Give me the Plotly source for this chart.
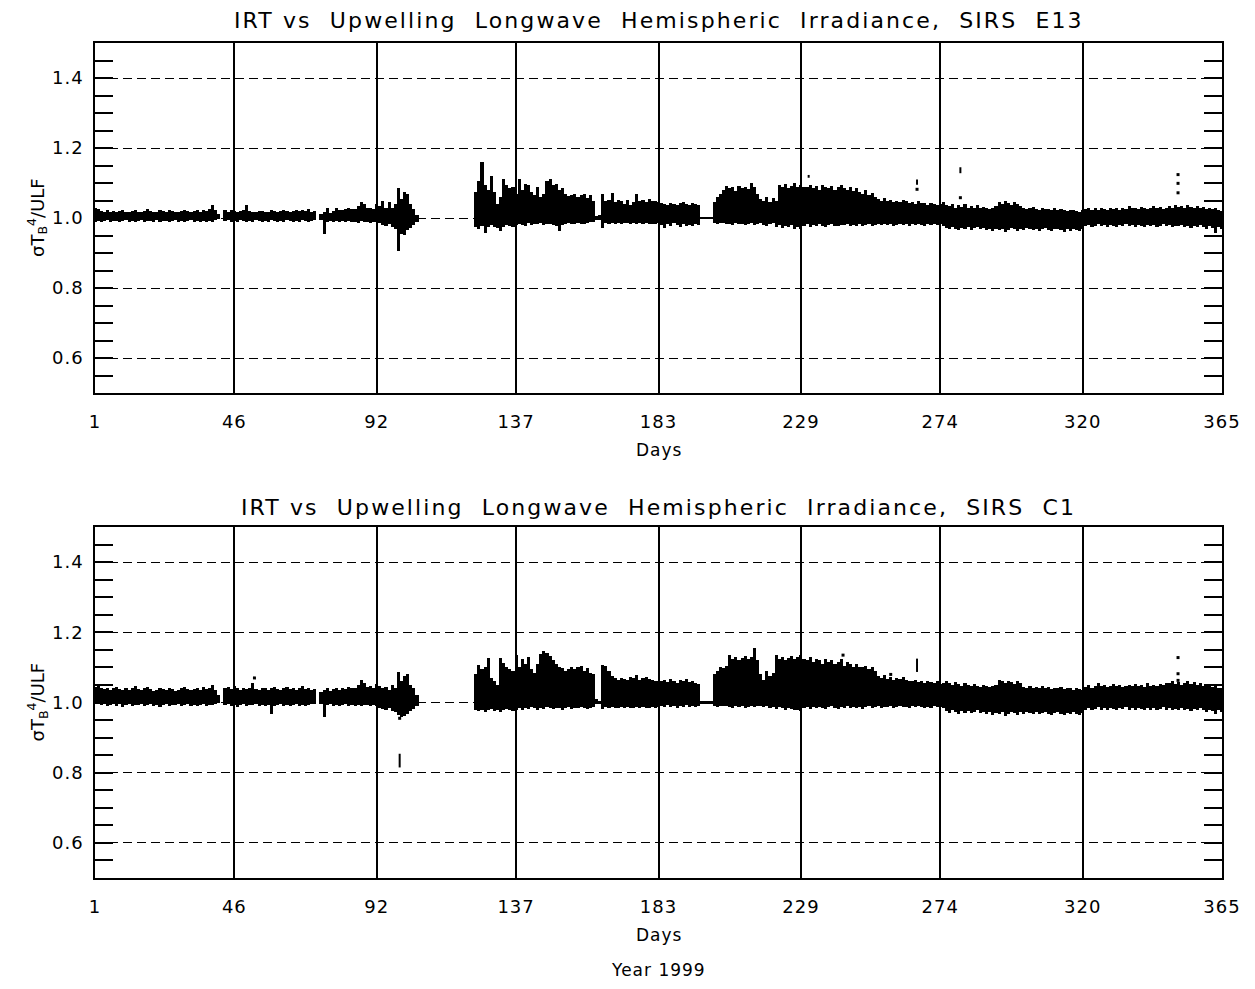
import plotly.graph_objects as go

# ---------------- data ----------------
x_tick_days = [1, 46, 92, 137, 183, 229, 274, 320, 365]
y_tick_vals = [0.6, 0.8, 1.0, 1.2, 1.4]
y_tick_text = ["0.6", "0.8", "1.0", "1.2", "1.4"]

titles = ["IRT vs  Upwelling  Longwave  Hemispheric  Irradiance,  SIRS  E13",
          "IRT vs  Upwelling  Longwave  Hemispheric  Irradiance,  SIRS  C1"]

# Daily maxima / minima of sigma*Tb^4/ULF, given as runs (first day, values)
e13_hi_runs = [
    (1, [1.030, 1.025, 1.020, 1.018, 1.022, 1.017, 1.020, 1.016, 1.019, 1.022,
         1.018, 1.016, 1.020, 1.024, 1.018, 1.017, 1.021, 1.025, 1.019, 1.016,
         1.018, 1.022, 1.020, 1.017, 1.023, 1.019, 1.016, 1.018, 1.021, 1.024,
         1.019, 1.017, 1.020, 1.022, 1.018, 1.024, 1.020, 1.026, 1.038, 1.022, 1.012]),
    (43, [1.022, 1.018, 1.024, 1.020, 1.017, 1.019, 1.022, 1.037, 1.020, 1.017,
          1.016, 1.019, 1.021, 1.018, 1.016, 1.022, 1.020, 1.017, 1.019, 1.023,
          1.020, 1.018, 1.021, 1.024, 1.019, 1.022, 1.020, 1.025, 1.018, 1.020]),
    (74, [1.012, 1.018, 1.030, 1.015, 1.020, 1.028, 1.024, 1.022, 1.026, 1.030,
          1.027, 1.025, 1.035, 1.045, 1.040, 1.028, 1.030, 1.025, 1.040]),
    (93, [1.035, 1.050, 1.030, 1.045, 1.030, 1.040, 1.085, 1.055, 1.075, 1.070,
          1.040, 1.025, 1.010]),
    (124, [1.075, 1.105, 1.160, 1.095, 1.080, 1.120, 1.075, 1.040, 1.060, 1.112,
           1.095, 1.085, 1.090, 1.070,
           1.112, 1.080, 1.098, 1.093, 1.075, 1.065, 1.088, 1.060, 1.068, 1.105,
           1.112, 1.095, 1.097, 1.080, 1.085, 1.068, 1.062, 1.065, 1.070, 1.060,
           1.065, 1.068, 1.058, 1.066, 1.048,
           1.005, 1.010,
           1.070, 1.050, 1.052, 1.072, 1.045, 1.052, 1.050, 1.040, 1.052, 1.038,
           1.045, 1.068, 1.048, 1.052, 1.045, 1.055, 1.050, 1.048, 1.045]),
    (184, [1.042, 1.040, 1.038, 1.044, 1.040, 1.036, 1.042, 1.045, 1.040, 1.038,
           1.042, 1.040, 1.036]),
    (197, [1.003, 1.003, 1.003, 1.003]),
    (201, [1.045, 1.060, 1.068, 1.080, 1.092]),
    (206, [1.085, 1.090, 1.078, 1.092, 1.085, 1.088, 1.082, 1.100, 1.090, 1.070]),
    (216, [1.055, 1.050, 1.060, 1.045, 1.058, 1.050]),
    (222, [1.095, 1.090, 1.098, 1.085, 1.092, 1.100, 1.088, 1.095]),
    (230, [1.090, 1.088, 1.095, 1.085, 1.092, 1.080, 1.095, 1.090, 1.085, 1.092,
           1.080, 1.088, 1.095, 1.085, 1.080, 1.090, 1.078, 1.085, 1.075]),
    (249, [1.070, 1.080, 1.065, 1.072, 1.060]),
    (254, [1.055, 1.050, 1.058, 1.048, 1.052, 1.045, 1.050, 1.046, 1.052, 1.048, 1.044]),
    (265, [1.045, 1.040, 1.048, 1.042, 1.044, 1.038, 1.042, 1.040, 1.036, 1.040, 1.045]),
    (276, [1.038, 1.035, 1.040, 1.030, 1.036, 1.032, 1.040, 1.028, 1.034, 1.030,
           1.036, 1.028, 1.032, 1.030, 1.026, 1.030, 1.035]),
    (293, [1.045, 1.040, 1.048, 1.042, 1.038, 1.046, 1.040, 1.035]),
    (301, [1.030, 1.025, 1.028, 1.032, 1.026, 1.024, 1.030, 1.027, 1.025, 1.022,
           1.028, 1.024, 1.026, 1.023, 1.020, 1.024, 1.022, 1.020, 1.018, 1.022]),
    (321, [1.025, 1.030, 1.022, 1.028, 1.024, 1.030, 1.026, 1.022, 1.028, 1.025,
           1.030, 1.024, 1.028, 1.026, 1.034, 1.028, 1.030, 1.025, 1.032, 1.028,
           1.026, 1.030, 1.034, 1.028, 1.032, 1.026, 1.030]),
    (348, [1.035, 1.030, 1.038, 1.032, 1.035, 1.030, 1.036, 1.032, 1.030, 1.034,
           1.028, 1.032, 1.026, 1.030, 1.025, 1.028, 1.022, 1.020]),
]

e13_lo_runs = [
    (1, [0.990, 0.992, 0.988, 0.991, 0.993, 0.989, 0.991, 0.992, 0.988, 0.991,
         0.993, 0.990, 0.992, 0.989, 0.991, 0.993, 0.988, 0.991, 0.992, 0.990,
         0.993, 0.989, 0.991, 0.992, 0.988, 0.991, 0.993, 0.990, 0.992, 0.989,
         0.991, 0.993, 0.988, 0.991, 0.990, 0.992, 0.989, 0.991, 0.988, 0.993, 0.997]),
    (43, [0.991, 0.993, 0.989, 0.992, 0.990, 0.993, 0.991, 0.988, 0.992, 0.990,
          0.993, 0.991, 0.989, 0.992, 0.990, 0.993, 0.991, 0.989, 0.992, 0.990,
          0.993, 0.991, 0.988, 0.992, 0.990, 0.993, 0.991, 0.989, 0.992, 0.995]),
    (74, [0.995, 0.954, 0.988, 0.991, 0.989, 0.992, 0.988, 0.991, 0.989, 0.992,
          0.988, 0.990, 0.987, 0.991, 0.988, 0.990, 0.986, 0.989, 0.988]),
    (93, [0.985, 0.980, 0.978, 0.982, 0.975, 0.970, 0.905, 0.955, 0.952, 0.965,
          0.972, 0.980, 0.990]),
    (124, [0.975, 0.970, 0.978, 0.958, 0.975, 0.980, 0.975, 0.972, 0.963, 0.975,
           0.980, 0.978, 0.975, 0.980,
           0.982, 0.980, 0.978, 0.985, 0.980, 0.983, 0.982, 0.985, 0.980, 0.982,
           0.984, 0.980, 0.978, 0.963, 0.980, 0.982, 0.985, 0.983, 0.982, 0.985,
           0.982, 0.984, 0.985, 0.988, 0.990,
           0.995, 0.995,
           0.972, 0.985, 0.982, 0.985, 0.983, 0.985, 0.982, 0.985, 0.986, 0.982,
           0.985, 0.983, 0.985, 0.984, 0.986, 0.983, 0.982, 0.984, 0.985]),
    (184, [0.980, 0.972, 0.982, 0.978, 0.985, 0.980, 0.975, 0.982, 0.978, 0.980,
           0.976, 0.982, 0.980]),
    (197, [0.997, 0.997, 0.997, 0.997]),
    (201, [0.985, 0.984, 0.986, 0.985, 0.984]),
    (206, [0.983, 0.980, 0.985, 0.982, 0.984, 0.980, 0.983, 0.985, 0.981, 0.984]),
    (216, [0.985, 0.980, 0.978, 0.983, 0.985, 0.975, 0.980, 0.972, 0.978, 0.975,
           0.980, 0.970, 0.975, 0.970]),
    (230, [0.978, 0.982, 0.975, 0.980, 0.977, 0.982, 0.978, 0.975, 0.980, 0.983,
           0.978, 0.976, 0.981, 0.979, 0.983, 0.977, 0.980, 0.978, 0.982, 0.976,
           0.980, 0.983, 0.978, 0.981, 0.984, 0.979, 0.982, 0.980, 0.983, 0.978,
           0.981, 0.984, 0.980, 0.982, 0.978, 0.983, 0.980, 0.984, 0.981, 0.978,
           0.982, 0.979, 0.983, 0.980, 0.982, 0.978]),
    (276, [0.972, 0.968, 0.975, 0.970, 0.966, 0.972, 0.969, 0.974, 0.967, 0.971,
           0.975, 0.968, 0.972, 0.965, 0.970, 0.962, 0.968, 0.965, 0.970, 0.960,
           0.966, 0.972, 0.968, 0.963, 0.970, 0.966, 0.972, 0.968, 0.965, 0.970,
           0.964, 0.968, 0.972, 0.966, 0.963, 0.968, 0.970, 0.965, 0.961, 0.968,
           0.964, 0.970, 0.966, 0.962, 0.968]),
    (321, [0.976, 0.980, 0.975, 0.978, 0.982, 0.976, 0.979, 0.974, 0.980, 0.977,
           0.975, 0.980, 0.978, 0.982, 0.976, 0.979, 0.975, 0.980, 0.977, 0.974,
           0.979, 0.976, 0.980, 0.975, 0.978, 0.982, 0.976, 0.979, 0.974, 0.978,
           0.976, 0.980, 0.975, 0.978, 0.972, 0.977, 0.974, 0.979, 0.975, 0.970,
           0.976, 0.972, 0.957, 0.974, 0.968]),
]

c1_hi_runs = [
    (1, [1.045, 1.050, 1.040, 1.038, 1.042, 1.036, 1.040, 1.044, 1.038, 1.035,
         1.040, 1.037, 1.042, 1.046, 1.038, 1.036, 1.040, 1.044, 1.038, 1.034,
         1.037, 1.042, 1.039, 1.035, 1.041, 1.038, 1.034, 1.036, 1.040, 1.043,
         1.038, 1.035, 1.039, 1.041, 1.036, 1.043, 1.038, 1.040, 1.050, 1.036, 1.020]),
    (43, [1.040, 1.044, 1.038, 1.046, 1.040, 1.036, 1.042, 1.038, 1.040, 1.055,
          1.038, 1.036, 1.040, 1.042, 1.037, 1.040, 1.043, 1.038, 1.035, 1.040,
          1.044, 1.038, 1.040, 1.037, 1.042, 1.046, 1.038, 1.041, 1.036, 1.038]),
    (74, [1.030, 1.036, 1.040, 1.032, 1.038, 1.042, 1.036, 1.040, 1.038, 1.044,
          1.040, 1.042, 1.050, 1.065, 1.055, 1.045, 1.048, 1.040, 1.052]),
    (93, [1.048, 1.040, 1.045, 1.035, 1.050, 1.040, 1.088, 1.060, 1.075, 1.082,
          1.050, 1.040, 1.020]),
    (124, [1.080, 1.107, 1.095, 1.100, 1.126, 1.070, 1.060, 1.050, 1.128, 1.113,
           1.100, 1.095, 1.090, 1.136,
           1.100, 1.123, 1.110, 1.130, 1.095, 1.085, 1.110, 1.138, 1.147, 1.140,
           1.133, 1.120, 1.109, 1.100, 1.099, 1.090, 1.095, 1.100, 1.095, 1.100,
           1.105, 1.090, 1.098, 1.085, 1.080,
           1.010, 1.005,
           1.107, 1.105, 1.090, 1.075, 1.070, 1.065, 1.070, 1.068, 1.065, 1.072,
           1.070, 1.078, 1.065, 1.070, 1.072, 1.068, 1.065, 1.060, 1.062]),
    (184, [1.060, 1.065, 1.058, 1.068, 1.062, 1.055, 1.064, 1.060, 1.066, 1.058,
           1.062, 1.056, 1.054]),
    (197, [1.003, 1.003, 1.003, 1.003]),
    (201, [1.082, 1.090, 1.100, 1.098, 1.105]),
    (206, [1.135, 1.125, 1.130, 1.120, 1.128, 1.132, 1.125, 1.130, 1.154, 1.120]),
    (216, [1.080, 1.065, 1.090, 1.075, 1.085]),
    (221, [1.135, 1.125, 1.130, 1.120, 1.128, 1.132, 1.125, 1.130, 1.135]),
    (230, [1.125, 1.120, 1.130, 1.115, 1.125, 1.120, 1.110, 1.125, 1.115, 1.120,
           1.110, 1.115, 1.125, 1.105, 1.115, 1.110, 1.100, 1.110, 1.100]),
    (249, [1.100, 1.105, 1.095, 1.100, 1.090]),
    (254, [1.075, 1.070, 1.078, 1.068, 1.072, 1.065, 1.070, 1.068, 1.072, 1.065, 1.060]),
    (265, [1.060, 1.065, 1.058, 1.062, 1.055, 1.060, 1.058, 1.055, 1.060, 1.052, 1.055]),
    (276, [1.060, 1.055, 1.050, 1.058, 1.052, 1.048, 1.055, 1.050, 1.046, 1.052,
           1.048, 1.045, 1.050, 1.046, 1.044, 1.048, 1.050]),
    (293, [1.065, 1.060, 1.055, 1.062, 1.058, 1.052, 1.060, 1.055]),
    (301, [1.045, 1.042, 1.048, 1.040, 1.044, 1.042, 1.046, 1.040, 1.043, 1.038,
           1.042, 1.040, 1.044, 1.038, 1.042, 1.040, 1.036, 1.040, 1.038, 1.035]),
    (321, [1.045, 1.050, 1.042, 1.048, 1.055, 1.046, 1.050, 1.044, 1.048, 1.052,
           1.046, 1.050, 1.044, 1.048, 1.050, 1.046, 1.052, 1.048, 1.050, 1.045,
           1.055, 1.048, 1.050, 1.046, 1.052, 1.050, 1.055]),
    (348, [1.055, 1.060, 1.052, 1.058, 1.050, 1.055, 1.060, 1.052, 1.058, 1.050,
           1.055, 1.048, 1.052, 1.050, 1.045, 1.048, 1.042, 1.040]),
]

c1_lo_runs = [
    (1, [0.995, 0.998, 0.992, 0.996, 0.990, 0.994, 0.997, 0.991, 0.995, 0.988,
         0.993, 0.996, 0.990, 0.994, 0.992, 0.997, 0.989, 0.993, 0.995, 0.991,
         0.994, 0.988, 0.992, 0.996, 0.990, 0.994, 0.992, 0.997, 0.990, 0.993,
         0.995, 0.991, 0.994, 0.989, 0.993, 0.996, 0.990, 0.994, 0.992, 0.995, 0.998]),
    (43, [0.992, 0.995, 0.990, 0.994, 0.988, 0.993, 0.996, 0.990, 0.994, 0.992,
          0.995, 0.989, 0.993, 0.991, 0.994, 0.966, 0.990, 0.993, 0.995, 0.991,
          0.994, 0.990, 0.993, 0.996, 0.991, 0.994, 0.990, 0.993, 0.995, 0.997]),
    (74, [0.996, 0.960, 0.992, 0.995, 0.991, 0.994, 0.990, 0.993, 0.995, 0.991,
          0.994, 0.990, 0.993, 0.989, 0.992, 0.994, 0.990, 0.993, 0.991]),
    (93, [0.985, 0.982, 0.978, 0.984, 0.976, 0.972, 0.965, 0.958, 0.962, 0.968,
          0.975, 0.982, 0.990]),
    (124, [0.978, 0.975, 0.980, 0.972, 0.978, 0.982, 0.976, 0.980, 0.974, 0.978,
           0.982, 0.979, 0.976, 0.980,
           0.983, 0.980, 0.985, 0.982, 0.986, 0.983, 0.980, 0.985, 0.982, 0.986,
           0.984, 0.981, 0.985, 0.983, 0.980, 0.984, 0.986, 0.982, 0.985, 0.983,
           0.986, 0.984, 0.982, 0.985, 0.988,
           0.996, 0.996,
           0.982, 0.986, 0.984, 0.987, 0.985, 0.983, 0.986, 0.984, 0.987, 0.985,
           0.983, 0.986, 0.984, 0.987, 0.985, 0.983, 0.986, 0.984, 0.986]),
    (184, [0.990, 0.986, 0.992, 0.988, 0.990, 0.985, 0.991, 0.988, 0.992, 0.987,
           0.990, 0.988, 0.991]),
    (197, [0.997, 0.997, 0.997, 0.997]),
    (201, [0.990, 0.988, 0.991, 0.989, 0.990]),
    (206, [0.988, 0.985, 0.990, 0.986, 0.989, 0.985, 0.988, 0.990, 0.986, 0.989]),
    (216, [0.990, 0.986, 0.989, 0.985, 0.988, 0.982, 0.986, 0.984, 0.980, 0.985,
           0.982, 0.978, 0.980, 0.975]),
    (230, [0.984, 0.987, 0.982, 0.986, 0.983, 0.988, 0.984, 0.981, 0.986, 0.989,
           0.984, 0.982, 0.987, 0.985, 0.989, 0.983, 0.986, 0.984, 0.988, 0.982,
           0.986, 0.989, 0.984, 0.987, 0.990, 0.985, 0.988, 0.986, 0.989, 0.984,
           0.987, 0.990, 0.986, 0.988, 0.984, 0.989, 0.986, 0.990, 0.987, 0.984,
           0.988, 0.985, 0.989, 0.986, 0.988, 0.984]),
    (276, [0.975, 0.970, 0.978, 0.972, 0.968, 0.975, 0.971, 0.977, 0.969, 0.973,
           0.978, 0.970, 0.974, 0.966, 0.972, 0.963, 0.970, 0.967, 0.972, 0.962,
           0.968, 0.974, 0.970, 0.965, 0.972, 0.968, 0.974, 0.970, 0.967, 0.972,
           0.966, 0.970, 0.974, 0.968, 0.965, 0.970, 0.972, 0.967, 0.963, 0.970,
           0.966, 0.972, 0.968, 0.964, 0.970]),
    (321, [0.980, 0.984, 0.979, 0.982, 0.986, 0.980, 0.983, 0.978, 0.984, 0.981,
           0.979, 0.984, 0.982, 0.986, 0.980, 0.983, 0.979, 0.984, 0.981, 0.978,
           0.983, 0.980, 0.984, 0.979, 0.982, 0.986, 0.980, 0.983, 0.978, 0.982,
           0.980, 0.984, 0.979, 0.982, 0.976, 0.981, 0.978, 0.983, 0.979, 0.974,
           0.980, 0.976, 0.967, 0.978, 0.972]),
]

# isolated outliers: short vertical dashes (day, low, high) and single dots (day, value)
e13_dash_day = [231.5, 266.5, 280.5]
e13_dash_lo = [1.115, 1.095, 1.128]
e13_dash_hi = [1.123, 1.110, 1.145]
e13_dot_day = [266.5, 280.5, 350.8, 350.8, 350.8]
e13_dot_val = [1.082, 1.058, 1.124, 1.099, 1.072]

c1_dash_day = [99.4, 266.5]
c1_dash_lo = [0.815, 1.087]
c1_dash_hi = [0.854, 1.125]
c1_dot_day = [52.5, 99.4, 242.6, 258.0, 350.8, 350.8, 350.8]
c1_dot_val = [1.070, 0.955, 1.135, 1.080, 1.128, 1.082, 1.063]

# ---------------- figure ----------------
# The page body has an 8px margin: the figure is drawn 16px smaller than the window and
# every reference pixel position is shifted by that margin.
PAGE_MARGIN = 8
W, H = 1255 - 2 * PAGE_MARGIN, 989 - 2 * PAGE_MARGIN
X0, X1 = 95 - PAGE_MARGIN, 1222 - PAGE_MARGIN
panels_px = [(43 - PAGE_MARGIN, 393 - PAGE_MARGIN), (527 - PAGE_MARGIN, 878 - PAGE_MARGIN)]
title_px = [21 - PAGE_MARGIN, 507 - PAGE_MARGIN]


def runs_to_lists(runs):
    days, vals = [], []
    for start, values in runs:
        for i, v in enumerate(values):
            days.append(start + i)
            vals.append(v)
    return days, vals


def to_paper_y(py):
    return 1 - py / H


def spaced(text, px):
    return '<span style="letter-spacing:%spx">%s</span>' % (px, text)


fig = go.Figure()
font_fam = "DejaVu Sans, Arial, sans-serif"

series = [
    (e13_hi_runs, e13_lo_runs, e13_dash_day, e13_dash_lo, e13_dash_hi, e13_dot_day, e13_dot_val),
    (c1_hi_runs, c1_lo_runs, c1_dash_day, c1_dash_lo, c1_dash_hi, c1_dot_day, c1_dot_val),
]

for k, (hi_runs, lo_runs, dd, dlo, dhi, pd_, pv) in enumerate(series):
    xa = "x" if k == 0 else "x2"
    ya = "y" if k == 0 else "y2"
    d_hi, v_hi = runs_to_lists(hi_runs)
    d_lo, v_lo = runs_to_lists(lo_runs)
    lo_map = dict(zip(d_lo, v_lo))
    bx, by, bb = [], [], []
    for d, h in zip(d_hi, v_hi):
        lo = lo_map.get(d)
        if lo is None:
            continue
        bx.append(d)
        bb.append(lo)
        by.append(h - lo)
    fig.add_trace(go.Bar(x=bx, y=by, base=bb, width=1.0,
                         marker=dict(color="black", line=dict(width=0)),
                         xaxis=xa, yaxis=ya, showlegend=False, hoverinfo="skip"))
    sx, sy = [], []
    for d, a, b in zip(dd, dlo, dhi):
        sx += [d, d, None]
        sy += [a, b, None]
    fig.add_trace(go.Scatter(x=sx, y=sy, mode="lines", line=dict(color="black", width=2),
                             xaxis=xa, yaxis=ya, showlegend=False, hoverinfo="skip"))
    fig.add_trace(go.Scatter(x=pd_, y=pv, mode="markers",
                             marker=dict(color="black", size=3, symbol="square"),
                             xaxis=xa, yaxis=ya, showlegend=False, hoverinfo="skip"))

tick_font = dict(family=font_fam, size=18, color="black")
common_x = dict(range=[1, 365], tickmode="array", tickvals=x_tick_days,
                ticktext=[spaced(str(v), 1) for v in x_tick_days],
                showgrid=True, gridcolor="black", gridwidth=1.5,
                showline=True, linecolor="black", linewidth=1.5, mirror=True,
                ticks="", zeroline=False, ticklabelstandoff=12, automargin=False,
                tickfont=tick_font,
                domain=[X0 / W, X1 / W], fixedrange=True)
common_y = dict(range=[0.5, 1.5], tickmode="array", tickvals=y_tick_vals,
                ticktext=[spaced(t, 1) for t in y_tick_text],
                showgrid=True, gridcolor="black", gridwidth=1.2, griddash="9px,5px",
                showline=True, linecolor="black", linewidth=1.5, mirror="ticks",
                ticks="inside", ticklen=18, tickwidth=1.5, tickcolor="black",
                minor=dict(dtick=0.05, tick0=0.5, ticks="inside", ticklen=18,
                           tickwidth=1.5, tickcolor="black", showgrid=False),
                zeroline=False, ticklabelstandoff=6, automargin=False,
                tickfont=tick_font, fixedrange=True)

fig.update_layout(
    width=W, height=H, autosize=False,
    margin=dict(l=0, r=0, t=0, b=0, autoexpand=False),
    paper_bgcolor="white", plot_bgcolor="white",
    barmode="overlay", bargap=0,
    xaxis=dict(common_x, anchor="y"),
    yaxis=dict(common_y, anchor="x",
               domain=[to_paper_y(panels_px[0][1]), to_paper_y(panels_px[0][0])]),
    xaxis2=dict(common_x, anchor="y2"),
    yaxis2=dict(common_y, anchor="x2",
                domain=[to_paper_y(panels_px[1][1]), to_paper_y(panels_px[1][0])]),
)

ann = []
cx = (X0 + X1) / 2 / W
for k, (top, bot) in enumerate(panels_px):
    ann.append(dict(text=spaced(titles[k], 2.1), x=cx, y=to_paper_y(title_px[k]),
                    xref="paper", yref="paper",
                    showarrow=False, xanchor="center", yanchor="middle",
                    font=dict(family=font_fam, size=22, color="black")))
    ann.append(dict(text=spaced("Days", 1), x=cx, y=to_paper_y(bot + 57),
                    xref="paper", yref="paper",
                    showarrow=False, xanchor="center", yanchor="middle",
                    font=dict(family=font_fam, size=17, color="black")))
    ann.append(dict(text="σT<sub>B</sub><sup>4</sup>/ULF", x=(37 - PAGE_MARGIN) / W,
                    y=to_paper_y((top + bot) / 2), xref="paper", yref="paper",
                    showarrow=False, textangle=-90, xanchor="center", yanchor="middle",
                    font=dict(family=font_fam, size=18, color="black")))
ann.append(dict(text=spaced("Year 1999", 1), x=cx, y=to_paper_y(970 - PAGE_MARGIN),
                xref="paper", yref="paper",
                showarrow=False, xanchor="center", yanchor="middle",
                font=dict(family=font_fam, size=17, color="black")))
fig.update_layout(annotations=ann)

fig.write_html("out.html", config={"responsive": False})
